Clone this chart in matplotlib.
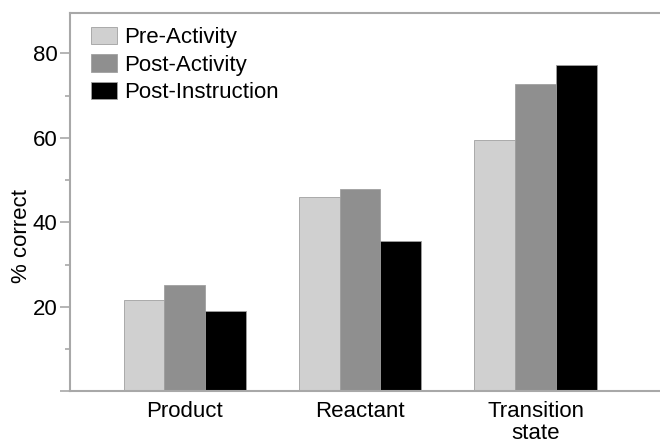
import numpy as np
import matplotlib.pyplot as plt

plt.rcParams['font.family'] = ['Liberation Sans', 'DejaVu Sans']

# 데이터
categories = ['Product', 'Reactant', 'Transition\nstate']
pre_activity = [21.6, 46.0, 59.6]
post_activity = [25.1, 48.0, 72.7]
post_instruction = [19.0, 35.5, 77.2]
series_names = ['Pre-Activity', 'Post-Activity', 'Post-Instruction']
colors = ['#d0d0d0', '#8f8f8f', '#000000']

fig = plt.figure(figsize=(6.6, 4.45), dpi=100)
ax = fig.add_axes([0.106, 0.121, 0.894, 0.850])

x = np.arange(len(categories))
w = 0.232
for i, (vals, name, c) in enumerate(zip([pre_activity, post_activity, post_instruction], series_names, colors)):
    ax.bar(x + (i - 1) * w, vals, width=w, color=c, label=name,
           edgecolor='#a0a0a0', linewidth=0.6)

ax.set_xlim(-0.655, 2.71)
ax.set_ylim(0, 89.6)
ax.set_xticks(x)
ax.set_xticklabels(categories, fontsize=16, linespacing=1.1)
ax.tick_params(axis='x', length=0, pad=7)

ax.set_yticks([0, 20, 40, 60, 80])
ax.set_yticklabels(['', '20', '40', '60', '80'], fontsize=16)
ax.set_yticks([10, 30, 50, 70], minor=True)
ax.tick_params(axis='y', which='major', length=7, width=1.2, color='#a8a8a8', pad=2)
ax.tick_params(axis='y', which='minor', length=3.5, width=1.2, color='#a8a8a8')

for s in ['left', 'top', 'bottom']:
    ax.spines[s].set_color('#a8a8a8')
    ax.spines[s].set_linewidth(1.5)
ax.spines['right'].set_visible(False)

ax.set_ylabel('% correct', fontsize=16)
ax.yaxis.set_label_coords(-0.065, 0.41)

ax.legend(loc='upper left', frameon=False, fontsize=16,
          handlelength=1.17, handleheight=0.82, handletextpad=0.32,
          labelspacing=0.28, borderaxespad=0.0, borderpad=0.0,
          bbox_to_anchor=(0.035, 0.963))

fig.savefig('out.png', dpi=100)
